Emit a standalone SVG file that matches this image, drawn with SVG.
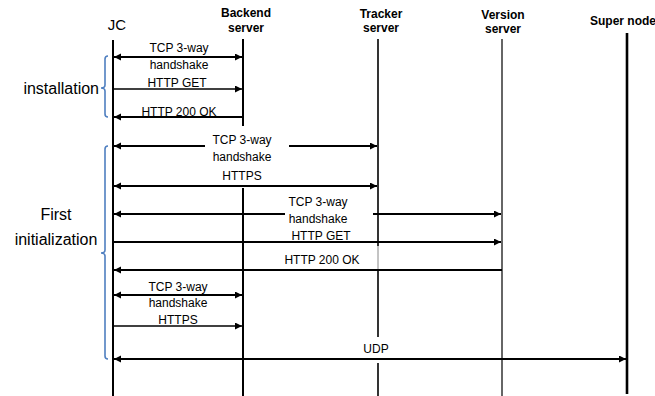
<svg xmlns="http://www.w3.org/2000/svg" width="655" height="396" viewBox="0 0 655 396">
<style>
text{font-family:"Liberation Sans",Arial,sans-serif;fill:#000}
.hdr{font-size:12px;font-weight:bold;text-anchor:middle}
.msg{font-size:12px;text-anchor:middle}
.big{font-size:16px}
.life{stroke:#000;stroke-width:2;fill:none}
.m{stroke:#000;stroke-width:1.8;fill:none}
.t{stroke:#000;stroke-width:1.3;fill:none}
.br{stroke:#4f7fc0;stroke-width:1.6;fill:none}
</style>
<defs>
<marker id="ah" markerWidth="8" markerHeight="8" refX="7" refY="3.5" orient="auto-start-reverse" markerUnits="userSpaceOnUse">
<path d="M0,0 L7,3.5 L0,7 Z" fill="#000"/>
</marker>
</defs>
<rect width="655" height="396" fill="#fff"/>

<g id="jc">
<text x="117" y="30" text-anchor="middle" font-size="15">JC</text>
<line x1="113" y1="40" x2="113" y2="396" class="life"/>
</g>
<g id="backend">
<text x="246" y="17" class="hdr">Backend</text>
<text x="246" y="32" class="hdr">server</text>
<line x1="243" y1="39" x2="243" y2="126" class="life"/>
<line x1="243" y1="188" x2="243" y2="396" class="life"/>
</g>
<g id="tracker">
<text x="381" y="18" class="hdr">Tracker</text>
<text x="381" y="32" class="hdr">server</text>
<line x1="378" y1="39" x2="378" y2="246" stroke="#000" stroke-width="1.6"/>
<line x1="378" y1="246" x2="378" y2="270" stroke="#888" stroke-width="1"/>
<line x1="378" y1="270" x2="378" y2="337" stroke="#000" stroke-width="1.6"/>
<line x1="378" y1="363" x2="378" y2="396" stroke="#000" stroke-width="1.6"/>
</g>
<g id="version">
<text x="503" y="19" class="hdr">Version</text>
<text x="503" y="33" class="hdr">server</text>
<line x1="502" y1="39" x2="502" y2="396" stroke="#333" stroke-width="1.5"/>
</g>
<g id="supernode">
<text x="590" y="25" class="hdr" style="text-anchor:start">Super node</text>
<line x1="627" y1="33" x2="627" y2="394" stroke="#000" stroke-width="2.6"/>
</g>

<g id="installation">
<path d="M108,56 Q105,56 105,59 L105,85 Q105,88 101,88 Q105,88 105,91 L105,114 Q105,117 108,117" class="br"/>
<text x="99" y="94" class="big" text-anchor="end">installation</text>
</g>
<g id="first-initialization">
<path d="M108,146 Q105,146 105,149 L105,250 Q105,253 101,253 Q105,253 105,256 L105,356 Q105,359 108,359" class="br"/>
<text x="56" y="220" class="big" text-anchor="middle">First</text>
<text x="56" y="245" class="big" text-anchor="middle">initialization</text>
</g>

<g id="connectors">
<line x1="114" y1="57" x2="242" y2="57" class="m" marker-start="url(#ah)" marker-end="url(#ah)"/>
<text x="179" y="52" class="msg">TCP 3-way</text>
<text x="179" y="69" class="msg">handshake</text>
<line x1="114" y1="89" x2="242" y2="89" class="t" marker-end="url(#ah)"/>
<text x="177" y="87" class="msg">HTTP GET</text>
<line x1="114" y1="117" x2="242" y2="117" class="m" marker-start="url(#ah)"/>
<text x="179" y="116" class="msg">HTTP 200 OK</text>

<line x1="114" y1="146" x2="205" y2="146" class="m" marker-start="url(#ah)"/>
<line x1="289" y1="146" x2="377" y2="146" class="m" marker-end="url(#ah)"/>
<text x="242" y="144" class="msg">TCP 3-way</text>
<text x="242" y="161" class="msg">handshake</text>
<line x1="114" y1="186" x2="377" y2="186" class="m" marker-start="url(#ah)" marker-end="url(#ah)"/>
<text x="242" y="180" class="msg">HTTPS</text>

<line x1="114" y1="214" x2="285" y2="214" class="m" marker-start="url(#ah)"/>
<line x1="373" y1="214" x2="501" y2="214" class="m" marker-end="url(#ah)"/>
<text x="318" y="206" class="msg">TCP 3-way</text>
<text x="318" y="223" class="msg">handshake</text>
<line x1="114" y1="242" x2="501" y2="242" class="m" marker-end="url(#ah)"/>
<text x="321" y="240" class="msg">HTTP GET</text>
<line x1="114" y1="270" x2="502" y2="270" class="m" marker-start="url(#ah)"/>
<text x="322" y="264" class="msg">HTTP 200 OK</text>

<line x1="114" y1="295" x2="242" y2="295" class="m" marker-start="url(#ah)" marker-end="url(#ah)"/>
<text x="178" y="291" class="msg">TCP 3-way</text>
<text x="178" y="307" class="msg">handshake</text>
<line x1="114" y1="326" x2="242" y2="326" class="t" marker-end="url(#ah)"/>
<text x="178" y="324" class="msg">HTTPS</text>

<line x1="114" y1="359" x2="626" y2="359" class="m" marker-start="url(#ah)" marker-end="url(#ah)"/>
<text x="376" y="353" class="msg">UDP</text>
</g>
</svg>
